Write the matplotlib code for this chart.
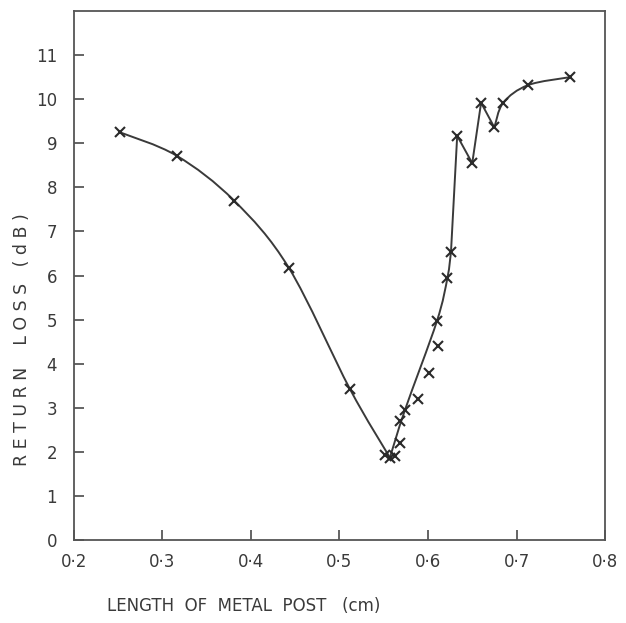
import numpy as np
import matplotlib.pyplot as plt
from matplotlib.path import Path
from matplotlib.patches import PathPatch

# measured points (crosses)
post_len = [0.252, 0.316, 0.381, 0.443, 0.512, 0.551, 0.557, 0.563, 0.568, 0.568,
            0.574, 0.589, 0.601, 0.611, 0.610, 0.622, 0.626, 0.633, 0.650, 0.660,
            0.675, 0.685, 0.713, 0.760]
ret_loss = [9.25, 8.72, 7.70, 6.17, 3.42, 1.93, 1.87, 1.90, 2.21, 2.71,
            2.95, 3.20, 3.80, 4.41, 4.96, 5.95, 6.54, 9.17, 8.55, 9.92,
            9.36, 9.92, 10.32, 10.50]

# hand drawn curve, in pieces (smooth / straight)
curve_a_x = [0.252, 0.316, 0.381, 0.443, 0.512, 0.557]
curve_a_y = [9.25, 8.72, 7.70, 6.17, 3.42, 1.87]
curve_b_x = [0.557, 0.574, 0.610, 0.622, 0.626]
curve_b_y = [1.87, 2.95, 4.96, 5.95, 6.54]
zigzag_x = [0.626, 0.633, 0.650, 0.660, 0.675]
zigzag_y = [6.54, 9.17, 8.55, 9.92, 9.36]
curve_c_x = [0.675, 0.685, 0.713, 0.760]
curve_c_y = [9.36, 9.92, 10.32, 10.50]

xticks = [0.2, 0.3, 0.4, 0.5, 0.6, 0.7, 0.8]
xtick_labels = ["0·2", "0·3", "0·4", "0·5", "0·6", "0·7", "0·8"]
yticks = list(range(0, 12))

ink = "#3a3a3a"


def smooth_path(xs, ys):
    # catmull-rom through the knots, written as cubic bezier segments
    p = np.column_stack([xs, ys])
    verts = [p[0]]
    codes = [Path.MOVETO]
    n = len(p)
    for i in range(n - 1):
        p0 = p[i - 1] if i > 0 else p[i]
        p1, p2 = p[i], p[i + 1]
        p3 = p[i + 2] if i + 2 < n else p[i + 1]
        c1 = p1 + (p2 - p0) / 6
        c2 = p2 - (p3 - p1) / 6
        verts += [c1, c2, p2]
        codes += [Path.CURVE4] * 3
    return Path(verts, codes)


fig = plt.figure(figsize=(6.26, 6.23), dpi=100)
ax = fig.add_axes([0.118, 0.1332, 0.8485, 0.849])

for xs, ys in [(curve_a_x, curve_a_y), (curve_b_x, curve_b_y), (curve_c_x, curve_c_y)]:
    ax.add_patch(PathPatch(smooth_path(xs, ys), fill=False, edgecolor=ink, lw=1.4))
ax.plot(zigzag_x, zigzag_y, color=ink, lw=1.4)
ax.plot(post_len, ret_loss, linestyle="none", marker="x", ms=7, mew=1.5, color="#2a2a2a")

ax.set_xlim(0.2, 0.8)
ax.set_ylim(0, 12)
ax.set_xticks(xticks)
ax.set_xticklabels(xtick_labels)
ax.set_yticks(yticks)
ax.tick_params(direction="in", length=7, width=1.1, colors=ink, labelsize=12)
ax.tick_params(axis="y", pad=12)
ax.tick_params(axis="x", pad=9)
for s in ax.spines.values():
    s.set_color("#555555")
    s.set_linewidth(1.3)

fig.text(0.035, 0.455, "R E T U R N    L O S S   ( d B )", rotation=90, ha="center",
         va="center", fontsize=12.5, color=ink)
fig.text(0.39, 0.028, "LENGTH  OF  METAL  POST   (cm)", ha="center", va="center",
         fontsize=12, color=ink)

fig.savefig("out.png", dpi=100)
